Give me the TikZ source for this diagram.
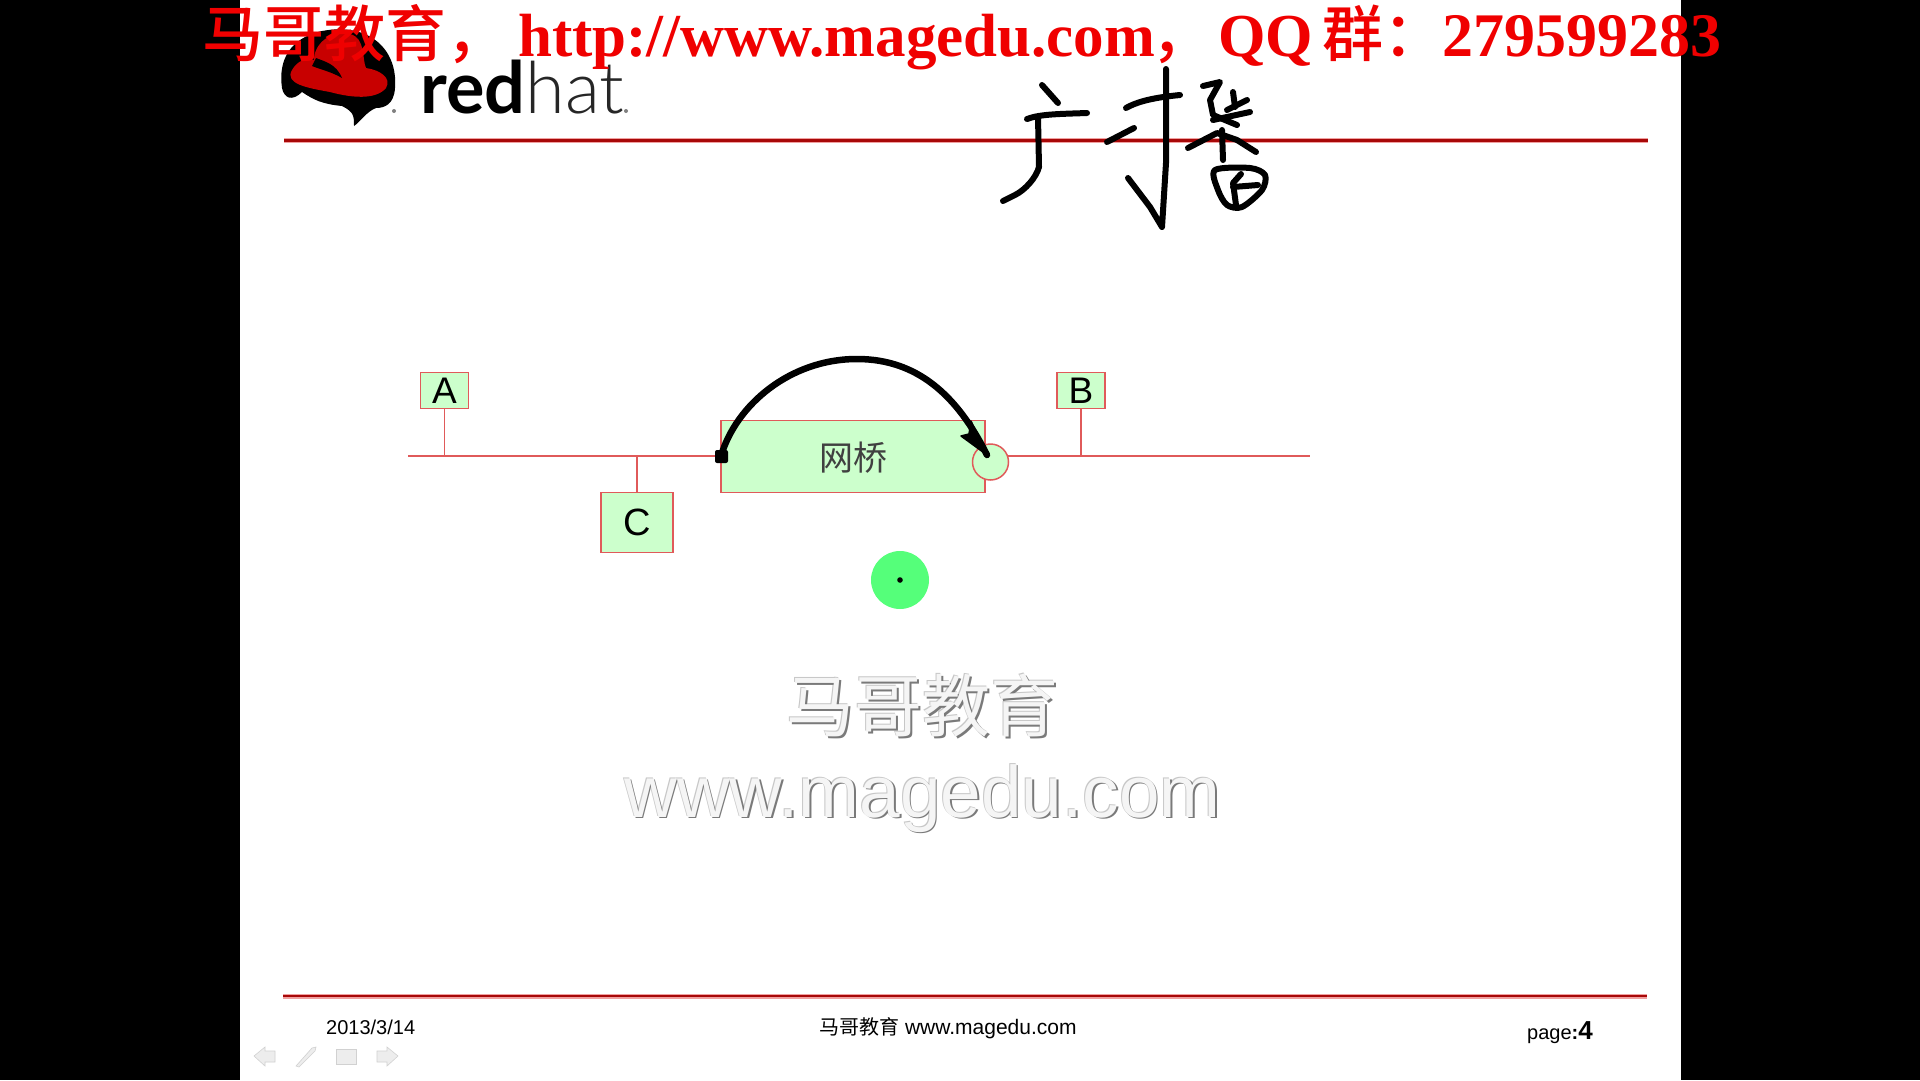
\documentclass[tikz,border=0pt]{standalone}
\usepackage{fontspec}
\setmainfont{Liberation Sans}
\newfontfamily\serifb{Liberation Serif}
\newfontfamily\cjk{Noto Sans CJK SC}
\newfontfamily\cjkm{Noto Sans CJK SC Medium}
\newfontfamily\lato{Lato}
\newfontfamily\latolight{Lato Light}
\definecolor{boxfill}{HTML}{CCFFCC}
\definecolor{boxline}{HTML}{E05A5A}
\definecolor{rulered}{HTML}{A80808}
\definecolor{rulepink}{HTML}{F0A0A0}
\definecolor{bannerred}{HTML}{F00000}
\definecolor{hatred}{HTML}{C80000}
\definecolor{pointer}{HTML}{55FF7A}
\tikzset{
  x=1pt,y=-1pt,
  box/.style={draw=boxline,line width=1.5pt,fill=boxfill,inner sep=0pt,text=black},
  link/.style={draw=boxline,line width=1.3pt},
  slideline/.style={draw=rulered,line width=2.6pt},
  slideedge/.style={draw=rulepink,line width=5pt},
  ink/.style={draw=black,line width=6pt,line cap=round,line join=round},
  plain/.style={inner sep=0pt,anchor=base west},
  banner/.style={plain,text=bannerred,font=\fontsize{61}{61}\selectfont\serifb\bfseries},
  bannercjk/.style={plain,text=bannerred,font=\fontsize{61}{61}\selectfont\cjkm},
  navicon/.style={fill=black!7,draw=black!18,line width=0.6pt},
}
\begin{document}
\begin{tikzpicture}
\useasboundingbox (0,0) rectangle (1920,1080);
\fill[black] (0,0) rectangle (1920,1080);
\fill[white] (240,0) rectangle (1681,1080);
% logo
\fill[black] (322,31) .. controls (370,22) and (398,50) .. (395,88) .. controls (394,104) and (385,108) .. (376,108)
  .. controls (366,112) and (360,122) .. (354,126) .. controls (354,116) and (354,112) .. (342,106)
  .. controls (322,104) and (314,100) .. (302,92) .. controls (292,102) and (284,98) .. (282,88)
  .. controls (278,60) and (290,38) .. (322,31) -- cycle;
\fill[hatred] (292,70) .. controls (298,60) and (306,58) .. (314,60) .. controls (314,44) and (330,30) .. (350,34)
  .. controls (366,38) and (362,60) .. (366,68) .. controls (380,70) and (392,78) .. (386,88)
  .. controls (376,100) and (352,98) .. (330,92) .. controls (308,88) and (284,84) .. (292,70) -- cycle;
\fill[black] (316,58) .. controls (326,62) and (336,64) .. (342,78) .. controls (332,72) and (322,70) .. (312,66) -- cycle;
\fill[black!50] (394,111) circle (2) (626,111) circle (2);
\node[plain,text=black] (logored) at (420,113) {\fontsize{72}{72}\selectfont\lato\bfseries red};
\node[plain,text=black!85] (logohat) at (logored.base east) {\fontsize{72}{72}\selectfont\latolight hat};
% rules
\coordinate (topL) at (284,140.5); \coordinate (topR) at (1648,140.5);
\coordinate (botL) at (283,996); \coordinate (botR) at (1647,996);
\draw[slideedge] (topL) -- (topR);
\draw[slideedge] (botL) -- (botR);
\draw[slideline] (topL) -- (topR);
\draw[slideline] (botL) -- (botR);
% banner
\node[bannercjk] (b1) at (202,56) {马哥教育，};
\node[banner] (b2) at (518,56) {http://www.magedu.com};
\node[bannercjk] (b3) at (1151,56) {，};
\node[banner] (b4) at (1218,56) {QQ};
\node[bannercjk] (b5) at (1322,56) {群：};
\node[banner,font=\fontsize{62}{62}\selectfont\serifb\bfseries] (b6) at (1442,56) {279599283};
% handwriting
\draw[ink] (1042,85) -- (1058,103);
\draw[ink] (1027,119) .. controls (1040,114) and (1060,114) .. (1087,113);
\draw[ink] (1038,117) -- (1039,167) .. controls (1036,178) and (1025,190) .. (1015,195) -- (1003,201);
\draw[ink] (1126,108) .. controls (1140,100) and (1160,97) .. (1180,95);
\draw[ink] (1166,69) -- (1166,163) -- (1162,227) -- (1150,207) -- (1128,178);
\draw[ink] (1107,142) -- (1134,128);
\draw[ink] (1203,86) -- (1220,82) -- (1210,100) -- (1213,115) -- (1237,125);
\draw[ink] (1233,92) -- (1235,107);
\draw[ink] (1247,100) -- (1227,110);
\draw[ink] (1250,112) -- (1213,120);
\draw[ink] (1188,148) -- (1217,133) -- (1237,140) -- (1256,152);
\draw[ink] (1222,130) -- (1223,160);
\draw[ink,smooth cycle] plot coordinates {(1215,170) (1218,190) (1227,205) (1242,207) (1262,190) (1265,175) (1250,168)};
\draw[ink] (1241,174) -- (1233,183) -- (1236,205);
\draw[ink] (1233,187) -- (1258,185);
% diagram
\coordinate (busL) at (408,456); \coordinate (busR) at (1310,456);
\draw[link] (busL) -- (busR);
\node[box,minimum width=48pt,minimum height=36pt,font=\fontsize{37}{37}\selectfont] (A) at (444.5,390.5) {A};
\node[box,minimum width=48pt,minimum height=36pt,font=\fontsize{37}{37}\selectfont] (B) at (1081,390.5) {B};
\node[box,minimum width=72pt,minimum height=60pt,font=\fontsize{38}{38}\selectfont] (C) at (637,522.5) {C};
\node[box,minimum width=264pt,minimum height=72pt,font=\fontsize{34}{34}\selectfont\cjk,text=black!75] (bridge) at (853,456.5) {\smash{\raisebox{-14pt}{网桥}}};
\node[box,circle,minimum size=36pt] (port) at (990.5,462) {};
\draw[link] (A.south) -- (A.south |- busL);
\draw[link] (B.south) -- (B.south |- busL);
\draw[link] (C.north) -- (C.north |- busL);
% pointer
\node[fill=pointer,circle,minimum size=58pt,inner sep=0pt] (laser) at (900,580) {};
\fill[black] (laser.center) circle (2.8);
% black arc
\coordinate (arcS) at (721,456); \coordinate (arcE) at (987,455);
\fill[black,rounded corners=2pt] (arcS) ++(-6,-6) rectangle ++(13,13);
\draw[ink,line width=6.5pt] (arcS) .. controls (736,405) and (790,359) .. (857,359) .. controls (917,359) and (957,395) .. (arcE);
\fill[black,line join=round,draw=black,line width=1.5pt] (arcE) -- (961,436) -- (969,434) -- (971,421) -- cycle;
% watermark
\foreach \n/\dx/\dy/\c in {wa/-1/-1/black!22, wc/1.6/1.6/black!52, wb/0/0/black!4}{
  \node[inner sep=0pt,text=\c,font=\fontsize{68}{68}\selectfont\cjk] (\n) at (922.5+\dx,706+\dy) {马哥教育};
  \node[inner sep=0pt,text=\c,font=\fontsize{73}{73}\selectfont,anchor=base] (\n2) at (922.5+\dx,817+\dy) {www.magedu.com};
}
% footer
\node[plain,font=\fontsize{20}{20}\selectfont] (date) at (326,1034) {2013/3/14};
\node[plain,font=\fontsize{21}{21}\selectfont] (foot) at (819,1034) {{\fontsize{20}{20}\selectfont\cjk 马哥教育} www.magedu.com};
\node[plain,font=\fontsize{20}{20}\selectfont] (page) at (1527,1039) {page\textbf{:}{\fontsize{26}{26}\selectfont\bfseries 4}};
% nav icons
\fill[navicon] (254,1056) -- (265,1047) -- (265,1051) -- (275,1051) -- (275,1062) -- (265,1062) -- (265,1066) -- cycle;
\fill[navicon] (296,1066) -- (312,1048) -- (316,1047) -- (315,1051) -- (299,1067) -- cycle;
\fill[navicon] (336,1049) rectangle (356,1064);
\fill[navicon] (398,1056) -- (387,1047) -- (387,1051) -- (377,1051) -- (377,1062) -- (387,1062) -- (387,1066) -- cycle;
\end{tikzpicture}
\end{document}
